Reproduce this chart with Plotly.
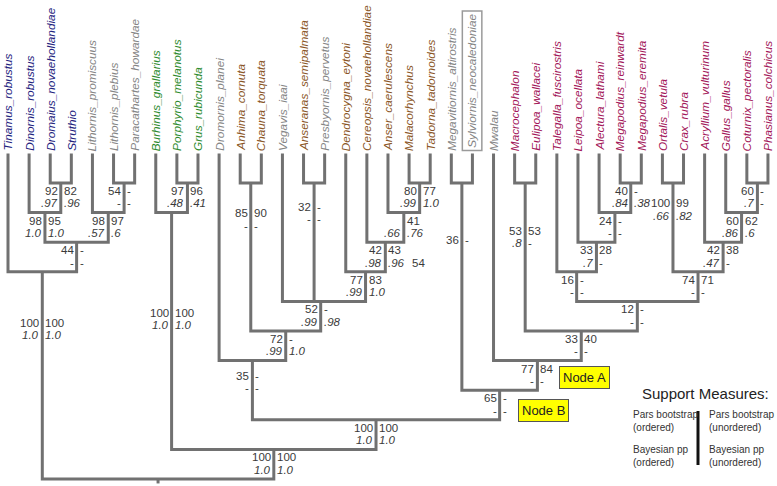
import plotly.graph_objects as go

# ---------------- data ----------------
tip_names = ["Tinamus_robustus", "Dinornis_robustus", "Dromaius_novaehollandiae", "Struthio",
             "Lithornis_promiscuus", "Lithornis_plebius", "Paracathartes_howardae",
             "Burhinus_grallarius", "Porphyrio_melanotus", "Grus_rubicunda", "Dromornis_planei",
             "Anhima_cornuta", "Chauna_torquata", "Vegavis_iaai", "Anseranas_semipalmata",
             "Presbyornis_pervetus", "Dendrocygna_eytoni", "Cereopsis_novaehollandiae",
             "Anser_caerulescens", "Malacorhynchus", "Tadorna_tadornoides",
             "Megavitiornis_altirostris", "Sylviornis_neocaledoniae", "Mwalau", "Macrocephalon",
             "Eulipoa_wallacei", "Talegalla_fuscirostris", "Leipoa_ocellata", "Alectura_lathami",
             "Megapodius_reinwardt", "Megapodius_eremita", "Ortalis_vetula", "Crax_rubra",
             "Acryllium_vulturinum", "Gallus_gallus", "Coturnix_pectoralis", "Phasianus_colchicus"]
tip_group = ["pal", "pal", "pal", "pal", "fos", "fos", "fos", "neo", "neo", "neo", "fos",
             "ans", "ans", "fos", "ans", "fos", "ans", "ans", "ans", "ans", "ans",
             "fos", "fos", "fos", "gal", "gal", "gal", "gal", "gal", "gal", "gal", "gal", "gal",
             "gal", "gal", "gal", "gal"]
group_colors = {"pal": "#23237e", "fos": "#858585", "neo": "#2e8b2e", "ans": "#8a5626", "gal": "#a3185a"}

node_ids = ["n1", "n2", "n3", "n4", "n5", "n6", "n7", "n8", "n9", "n10", "n11", "n12", "n13", "n14",
            "n15", "n16", "n17", "n18", "n19", "n20", "n21", "n22", "n23", "n24", "n25", "n26",
            "n27", "n28", "n29", "n30", "n31", "n32", "n33", "n34", "root"]
node_children = [[2, 3], [1, "n1"], [5, 6], [4, "n3"], ["n2", "n4"], [0, "n5"],
                 [8, 9], [7, "n7"], [11, 12], [14, 15], [19, 20], [18, "n11"], [17, "n12"],
                 [16, "n13"], [13, "n10", "n14"], ["n9", "n15"], [10, "n16"],
                 [21, 22], [24, 25], [29, 30], [28, "n20"], [27, "n21"], [26, "n22"],
                 [31, 32], [35, 36], [34, "n25"], [33, "n26"], ["n24", "n27"], ["n23", "n28"],
                 ["n19", "n29"], [23, "n30"], ["n18", "n31"], ["n17", "n32"], ["n8", "n33"],
                 ["n6", "n34"]]
node_levels = [1, 2, 1, 2, 3, 4, 1, 2, 1, 1, 1, 2, 3, 4, 5, 6, 7, 1, 1, 1, 2, 3, 4,
               1, 1, 2, 3, 4, 5, 6, 7, 8, 9, 10, 11]
# support values: parsimony bootstrap (ordered / unordered), Bayesian pp (ordered / unordered)
pars_ordered = ["92", "98", "54", "98", "44", "100", "97", "100", "85", "32", "80", "", "42", "77",
                "52", "72", "35", "36", "53", "40", "24", "33", "16", "100", "60", "60", "42",
                "74", "12", "33", "77", "65", "100", "100", ""]
pars_unordered = ["82", "95", "-", "97", "-", "100", "96", "100", "90", "-", "77", "41", "43", "83",
                  "-", "-", "-", "-", "53", "-", "-", "28", "-", "99", "-", "62", "38",
                  "71", "-", "40", "84", "-", "100", "100", ""]
pp_ordered = [".97", "1.0", "-", ".57", "-", "1.0", ".48", "1.0", "-", "-", ".99", ".66", ".98", ".99",
              ".99", ".99", "-", "", ".8", ".84", "-", ".7", "-", ".66", ".7", ".86", ".47",
              "-", "-", "-", "-", "-", "1.0", "1.0", ""]
pp_unordered = [".96", "1.0", "-", ".6", "-", "1.0", ".41", "1.0", "-", "-", "1.0", ".76", ".96", "1.0",
                ".98", "1.0", "-", "", "-", ".38", "-", "-", "-", ".82", "-", ".6", "-",
                "-", "-", "-", "-", "-", "1.0", "1.0", ""]
# level at which the first support row sits (None = just below the node bar)
label_levels = [None, None, None, None, None, 5.73, None, 5.39, 2.02, 1.81, None, None, None, None,
                None, None, 7.52, 2.93, 2.62, None, None, None, None, 1.68, None, None, None,
                None, None, None, None, None, None, 10.27, None]

legend_cols = [["Pars bootstrap<br>(ordered)", "Bayesian pp<br>(ordered)"],
               ["Pars bootstrap<br>(unordered)", "Bayesian pp<br>(unordered)"]]

# ---------------- layout of tree ----------------
node_x, node_lvl = {}, {}
for nid, ch, lv in zip(node_ids, node_children, node_levels):
    xs = [c if isinstance(c, int) else node_x[c] for c in ch]
    node_x[nid] = sum(xs) / len(xs)
    node_lvl[nid] = lv


def pos(c):
    return (c, 0.0) if isinstance(c, int) else (node_x[c], node_lvl[c])


lx, ly = [], []
for nid, ch, lv in zip(node_ids, node_children, node_levels):
    pts = sorted([pos(c) for c in ch])
    (x0, y0), (x1, y1) = pts[0], pts[-1]
    lx += [x0, x0, x1, x1, None]
    ly += [y0, lv, lv, y1, None]
    for xm, ym in pts[1:-1]:
        lx += [xm, xm, None]
        ly += [ym, lv, None]
lx += [node_x["root"], node_x["root"]]
ly += [11, 11.15]

FONT = "Liberation Sans, Arial, sans-serif"
fig = go.Figure()
fig.add_trace(go.Scatter(x=lx, y=ly, mode="lines", line=dict(color="#717171", width=3),
                         hoverinfo="skip", showlegend=False))

ann = []
for i, name in enumerate(tip_names):
    boxed = name == "Sylviornis_neocaledoniae"
    ann.append(dict(x=i, y=-0.08 if not boxed else -0.07, xref="x", yref="y", text="<i>" + name + "</i>",
                    textangle=-90, xanchor="center", yanchor="bottom", showarrow=False,
                    font=dict(family=FONT, size=11.8, color=group_colors[tip_group[i]]),
                    bordercolor="#9a9a9a" if boxed else None, borderwidth=1.5 if boxed else 0,
                    borderpad=2 if boxed else 0))

NUMC = "#3a3a3a"
for k, nid in enumerate(node_ids):
    x = node_x[nid]
    r1 = label_levels[k] if label_levels[k] is not None else node_levels[k] + 0.27
    r2 = r1 + 0.42
    for txt, yy, side, ital in [(pars_ordered[k], r1, "right", False), (pars_unordered[k], r1, "left", False),
                                (pp_ordered[k], r2, "right", True), (pp_unordered[k], r2, "left", True)]:
        if not txt:
            continue
        t = "<i>" + txt + "</i>" if (ital and txt != "-") else txt
        ann.append(dict(x=x, y=yy, xref="x", yref="y", text=t, showarrow=False,
                        xanchor=side, yanchor="middle", xshift=-2 if side == "right" else 2,
                        font=dict(family=FONT, size=11.5, color=NUMC), borderpad=0))

# stray value next to the Cereopsis node
ann.append(dict(x=node_x["n13"], y=node_levels[12] + 0.69, xref="x", yref="y", text="54",
                showarrow=False, xanchor="left", yanchor="middle", xshift=25,
                font=dict(family=FONT, size=11.5, color=NUMC)))

# Node A / Node B
ann.append(dict(x=node_x["n31"], y=7.57, xref="x", yref="y", text="Node A", showarrow=False,
                xanchor="center", yanchor="middle", xshift=47, bgcolor="#ffff00",
                bordercolor="#555555", borderwidth=1, borderpad=3,
                font=dict(family=FONT, size=13, color="#222222")))
ann.append(dict(x=node_x["n32"], y=8.69, xref="x", yref="y", text="Node B", showarrow=False,
                xanchor="center", yanchor="middle", xshift=44, bgcolor="#ffff00",
                bordercolor="#555555", borderwidth=1, borderpad=3,
                font=dict(family=FONT, size=13, color="#222222")))

# Support measures legend
W, H = 777.0, 486.0
ann.append(dict(x=705 / W, y=1 - 393 / H, xref="paper", yref="paper", text="Support Measures:",
                showarrow=False, xanchor="center", yanchor="middle",
                font=dict(family=FONT, size=15, color="#222222")))
for ci, (xx, anchor) in enumerate([(631, "left"), (707, "left")]):
    for ri, yy in enumerate([421, 456]):
        ann.append(dict(x=xx / W, y=1 - yy / H, xref="paper", yref="paper", text=legend_cols[ci][ri],
                        showarrow=False, xanchor=anchor, yanchor="middle", align="left",
                        font=dict(family=FONT, size=10, color="#333333")))

fig.update_layout(
    width=777, height=486, margin=dict(l=0, r=0, t=0, b=0),
    paper_bgcolor="white", plot_bgcolor="white",
    xaxis=dict(range=[-8 / 21.11, 769 / 21.11], visible=False, fixedrange=True),
    yaxis=dict(range=[(486 - 153.4) / 29.6, -153.4 / 29.6], visible=False, fixedrange=True),
    annotations=ann, showlegend=False,
    shapes=[dict(type="line", xref="paper", yref="paper", x0=698 / W, x1=698 / W,
                 y0=1 - 411 / H, y1=1 - 465 / H, line=dict(color="#111111", width=3))],
)
fig.write_html("out.html", config={"displayModeBar": False},
               post_script="document.body.style.margin='0';document.body.style.overflow='hidden';")
